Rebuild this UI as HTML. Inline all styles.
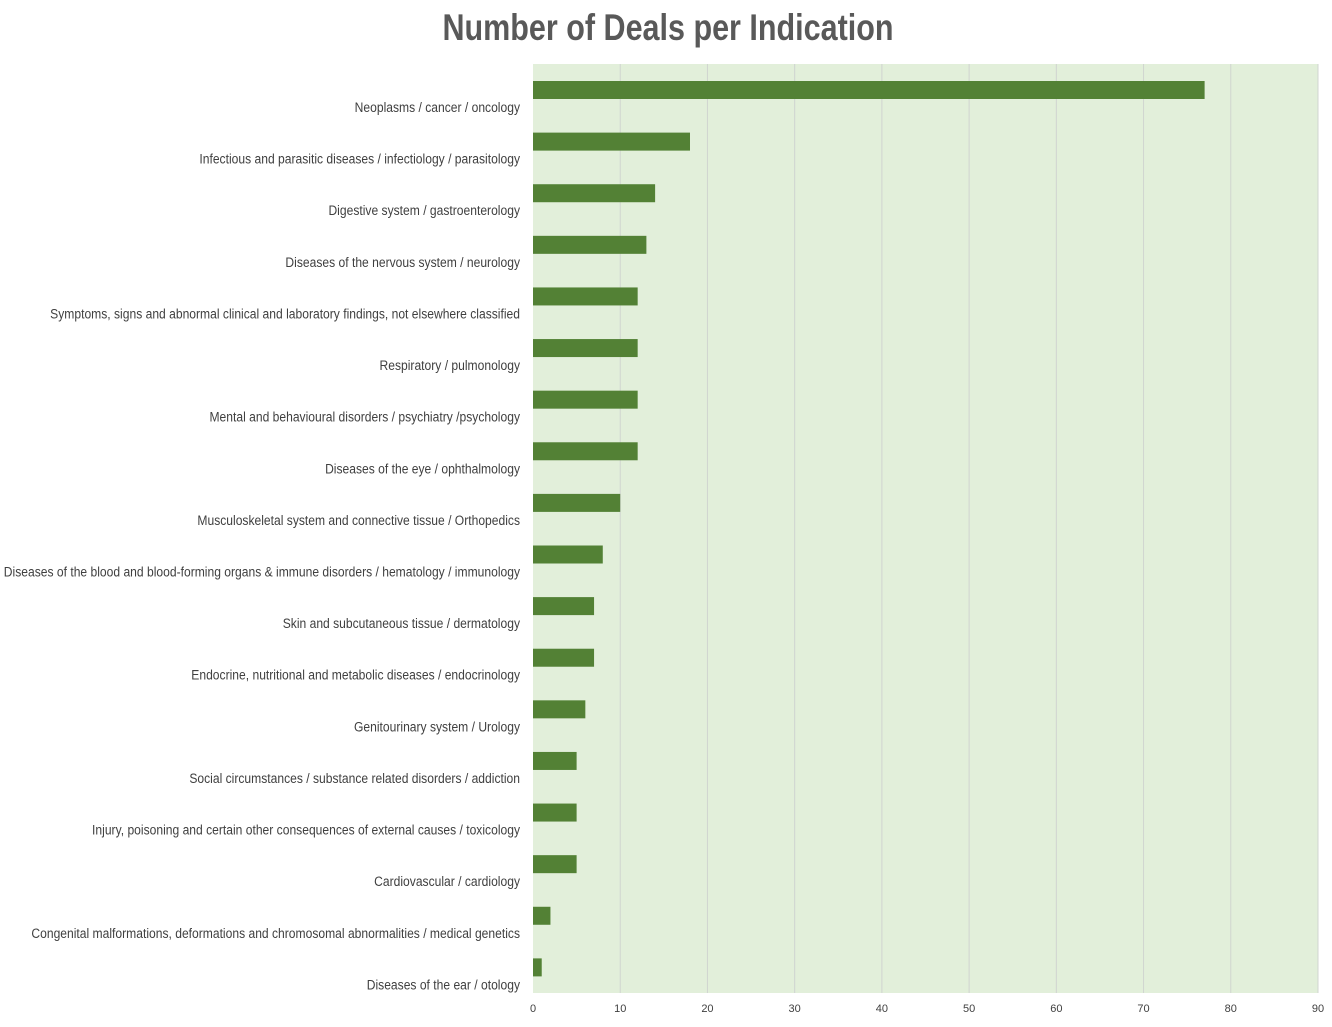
<!DOCTYPE html>
<html><head><meta charset="utf-8"><style>
body{margin:0;background:#fff;}
svg text{font-family:"Liberation Sans Narrow","Liberation Sans",sans-serif;}
</style></head><body>
<svg id="chart" width="1332" height="1022" xmlns="http://www.w3.org/2000/svg">
<text x="0" y="40" transform="translate(668,0) scale(0.825,1)" text-anchor="middle" font-size="37" font-weight="bold" fill="#595959">Number of Deals per Indication</text>
<rect x="533" y="64" width="785" height="929" fill="#e2efda"/>
<g id="grid"></g><g id="bars"></g><g id="labels" transform="translate(520,0) scale(0.864,1)"></g><g id="ticks"></g>
</svg>
<script>
const categories=["Neoplasms / cancer / oncology","Infectious and parasitic diseases / infectiology / parasitology","Digestive system / gastroenterology","Diseases of the nervous system / neurology","Symptoms, signs and abnormal clinical and laboratory findings, not elsewhere classified","Respiratory / pulmonology","Mental and behavioural disorders / psychiatry /psychology","Diseases of the eye / ophthalmology","Musculoskeletal system and connective tissue / Orthopedics","Diseases of the blood and blood-forming organs & immune disorders / hematology / immunology","Skin and subcutaneous tissue / dermatology","Endocrine, nutritional and metabolic diseases / endocrinology","Genitourinary system / Urology","Social circumstances / substance related disorders / addiction","Injury, poisoning and certain other consequences of external causes / toxicology","Cardiovascular / cardiology","Congenital malformations, deformations and chromosomal abnormalities / medical genetics","Diseases of the ear / otology"];
const values=[77,18,14,13,12,12,12,12,10,8,7,7,6,5,5,5,2,1];
const ticks=[0,10,20,30,40,50,60,70,80,90];
const NS="http://www.w3.org/2000/svg";
const x0=533,x1=1318,y0=64,y1=993;
const xs=v=>x0+(v/90)*(x1-x0);
const band=(y1-y0)/categories.length;
const ys=i=>y0+i*band;
function mk(t,a,p){const e=document.createElementNS(NS,t);for(const k in a)e.setAttribute(k,a[k]);document.getElementById(p).appendChild(e);return e;}
ticks.forEach(t=>{
 if(t>0){const l=mk('line',{x1:xs(t),x2:xs(t),y1:y0,y2:y1,stroke:'#d0d4d0','stroke-width':1},'grid');
 
 }
 const tx=mk('text',{x:xs(t),y:1012,'text-anchor':'middle','font-size':11,fill:'#404040'},'ticks');
 tx.textContent=t;
 
 
});
categories.forEach((c,i)=>{
 const r=mk('rect',{x:x0,y:ys(i)+17,width:xs(values[i])-x0,height:18,fill:'#538135'},'bars');
 
 
 const t=mk('text',{x:0,y:ys(i)+48,'text-anchor':'end','font-size':14,fill:'#404040'},'labels');
 t.textContent=c;
 
 
});
</script>
</body></html>
